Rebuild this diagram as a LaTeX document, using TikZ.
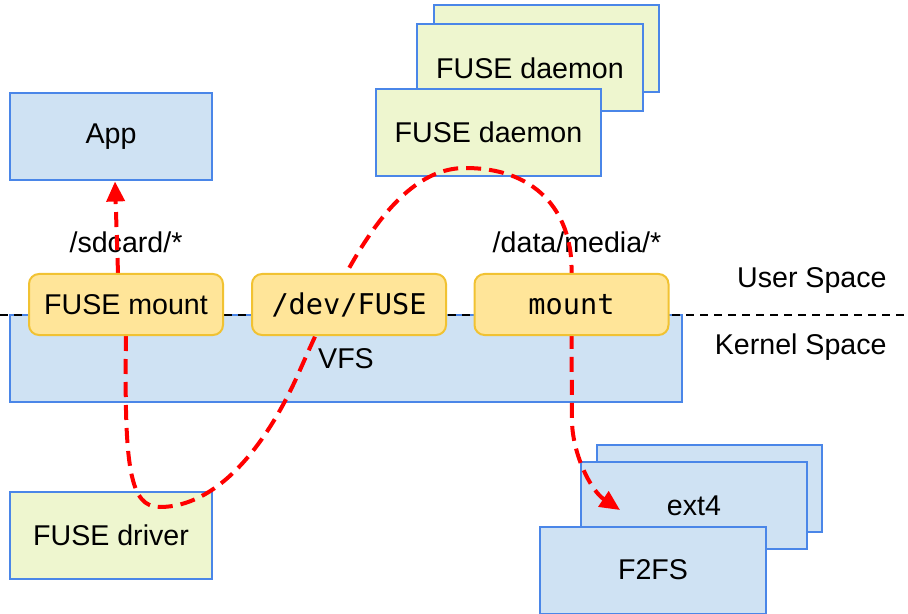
\documentclass[tikz,border=0pt]{standalone}
\usepackage{fontspec}
\setmainfont{Liberation Sans}
\setmonofont{DejaVu Sans Mono}
\usetikzlibrary{arrows.meta,calc}
\definecolor{BoxBlue}{HTML}{CFE2F3}
\definecolor{EdgeBlue}{HTML}{4A86E8}
\definecolor{BoxGreen}{HTML}{EEF6CF}
\definecolor{BoxYellow}{HTML}{FFE599}
\definecolor{EdgeYellow}{HTML}{F1C232}
\pgfdeclarelayer{front}
\pgfsetlayers{main,front}
\tikzset{
  bluebox/.style={draw=EdgeBlue, line width=1pt, fill=BoxBlue, minimum width=101pt, minimum height=43.5pt, inner sep=0pt, font=\fontsize{14.3}{16}\selectfont},
  greenbox/.style={bluebox, fill=BoxGreen},
  yellowbox/.style={draw=EdgeYellow, line width=1pt, rounded corners=5pt, fill=BoxYellow, minimum width=97pt, minimum height=30.5pt, inner sep=0pt, font=\fontsize{14.3}{16}\selectfont},
  monobox/.style={yellowbox, font=\fontsize{14.3}{16}\selectfont\ttfamily},
  lbl/.style={font=\fontsize{14.3}{16}\selectfont, inner sep=0pt},
  flow/.style={red, line width=2pt, dash pattern=on 7.5pt off 4pt},
  redarr/.style={-{Triangle[length=10pt,width=9pt]}}
}
\begin{document}
\begin{tikzpicture}[x=0.5pt, y=-0.5pt]
\useasboundingbox (0,0) rectangle (908,614);
% user space
\node[bluebox] (app) at (111,137) {App};
\node[greenbox, minimum width=112.5pt] (daemonC) at (546.5,48.5) {};
\node[greenbox, minimum width=113pt] (daemonB) at (530,68) {FUSE daemon};
\node[greenbox, minimum width=112.5pt] (daemonA) at (488.5,132.5) {FUSE daemon};
% kernel space
\node[bluebox, minimum width=336pt] (vfs) at (346,358.5) {VFS};
\coordinate (sepL) at (0,315);
\coordinate (sepR) at (908,315);
\draw[dash pattern=on 4pt off 3pt, line width=0.6pt] (sepL) -- (sepR);
\node[lbl] (sdcard) at (126,242) {/sdcard/*};
\node[lbl] (media) at (577,242) {/data/media/*};
\node[lbl, anchor=east] (user) at (887,280) {User Space};
\node[lbl, anchor=east] (kernel) at (887,347) {Kernel Space};
\node[greenbox] (driver) at (111,535.5) {FUSE driver};
\node[bluebox, minimum width=112.5pt] (ext4B) at (709.5,488.5) {};
\node[bluebox, minimum width=113pt] (ext4) at (694,505.5) {ext4};
\node[bluebox, minimum width=113pt] (f2fs) at (653,570) {F2FS};
\begin{pgfonlayer}{front}
\node[yellowbox] (fmount) at (126,304.5) {FUSE mount};
\node[monobox] (devfuse) at (349,304.5) {/dev/FUSE};
\node[monobox] (mnt) at (571.5,304.5) {mount};
\end{pgfonlayer}
% request path
\coordinate (ext4in) at (620,510);
\draw[flow, redarr] ($(fmount.north)+(-8,0)$) -- ($(app.south)+(4,0)$);
\draw[flow, redarr] (fmount.south) .. controls (124,470) and (130,507) .. (160,507)
  .. controls (215,507) and (265,450) .. (300,370)
  .. controls (340,280) and (390,168) .. (465,168)
  .. controls (542,168) and (573,218) .. (mnt.north)
  -- (mnt.south) -- (572,420)
  .. controls (572,452) and (590,490) .. (ext4in);
\end{tikzpicture}
\end{document}
